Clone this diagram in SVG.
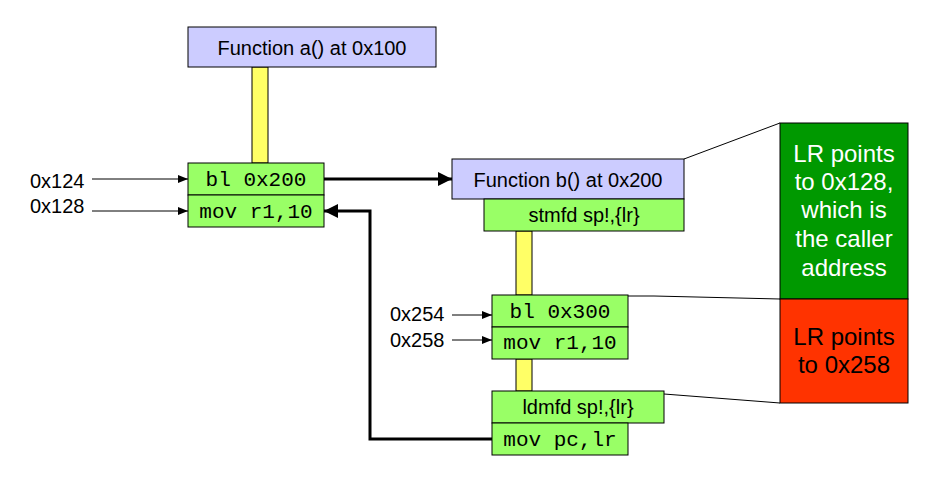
<svg xmlns="http://www.w3.org/2000/svg" width="937" height="485" viewBox="0 0 937 485">
<style>
.fn{fill:#ccccff;stroke:#000;stroke-width:1}
.ins{fill:#99ff66;stroke:#000;stroke-width:1}
.bar{fill:#ffff66;stroke:#000;stroke-width:1}
.s{font-family:"Liberation Sans",Arial,sans-serif;font-size:20px;fill:#000}
.m{font-family:"Liberation Mono","Courier New",monospace;font-size:21px;fill:#000}
.big{font-family:"Liberation Sans",Arial,sans-serif;font-size:24px;text-anchor:middle}
.c{text-anchor:middle}
.thin{stroke:#000;stroke-width:1;fill:none}
.thick{stroke:#000;stroke-width:3;fill:none}
</style>
<defs>
<marker id="ah" markerWidth="10" markerHeight="8" refX="10" refY="4" orient="auto" markerUnits="userSpaceOnUse"><path d="M0,0 L10,4 L0,8 Z" fill="#000"/></marker>
<marker id="ahb" markerWidth="14" markerHeight="14" refX="14" refY="7" orient="auto" markerUnits="userSpaceOnUse"><path d="M0,0 L14,7 L0,14 Z" fill="#000"/></marker>
</defs>
<g id="bars">
<rect class="bar" x="252" y="67" width="16" height="96"/>
<rect class="bar" x="516" y="231" width="16" height="64"/>
<rect class="bar" x="516" y="359" width="16" height="32"/>
</g>
<g id="funcA">
<rect class="fn" x="188" y="27" width="248" height="40"/>
<text class="s c" x="312" y="55">Function a() at 0x100</text>
</g>
<g id="a_bl">
<rect class="ins" x="188" y="163" width="136" height="32"/>
<text class="m c" x="256" y="186">bl 0x200</text>
</g>
<g id="a_mov">
<rect class="ins" x="188" y="195" width="136" height="32"/>
<text class="m c" x="256" y="218">mov r1,10</text>
</g>
<g id="funcB">
<rect class="fn" x="452" y="159" width="232" height="40"/>
<text class="s c" x="568" y="187">Function b() at 0x200</text>
</g>
<g id="b_stmfd">
<rect class="ins" x="484" y="199" width="200" height="32"/>
<text class="s c" x="584" y="222">stmfd sp!,{lr}</text>
</g>
<g id="b_bl">
<rect class="ins" x="492" y="295" width="136" height="32"/>
<text class="m c" x="560" y="318">bl 0x300</text>
</g>
<g id="b_mov">
<rect class="ins" x="492" y="327" width="136" height="32"/>
<text class="m c" x="560" y="349">mov r1,10</text>
</g>
<g id="b_ldmfd">
<rect class="ins" x="492" y="391" width="172" height="32"/>
<text class="s c" x="578" y="414">ldmfd sp!,{lr}</text>
</g>
<g id="b_movpc">
<rect class="ins" x="492" y="423" width="136" height="32"/>
<text class="m c" x="560" y="446">mov pc,lr</text>
</g>
<g id="noteGreen">
<rect x="780" y="123" width="128" height="176" fill="#009900" stroke="#000" stroke-width="1"/>
<text class="big" fill="#fff"><tspan x="844" y="162">LR points</tspan><tspan x="844" y="190">to 0x128,</tspan><tspan x="844" y="218">which is</tspan><tspan x="844" y="247">the caller</tspan><tspan x="844" y="276">address</tspan></text>
</g>
<g id="noteRed">
<rect x="780" y="299" width="128" height="104" fill="#ff3300" stroke="#000" stroke-width="1"/>
<text class="big" fill="#000"><tspan x="844" y="345">LR points</tspan><tspan x="844" y="373">to 0x258</tspan></text>
</g>
<g id="labels">
<text class="s" x="30" y="188">0x124</text>
<text class="s" x="30" y="213">0x128</text>
<text class="s" x="390" y="321">0x254</text>
<text class="s" x="390" y="347">0x258</text>
</g>
<g id="connectors">
<line class="thin" x1="92" y1="179" x2="188" y2="179" marker-end="url(#ah)"/>
<line class="thin" x1="92" y1="211" x2="188" y2="211" marker-end="url(#ah)"/>
<line class="thin" x1="452" y1="315" x2="492" y2="315" marker-end="url(#ah)"/>
<line class="thin" x1="452" y1="340" x2="492" y2="340" marker-end="url(#ah)"/>
<line class="thick" x1="324" y1="179" x2="452" y2="179" marker-end="url(#ahb)"/>
<polyline class="thick" points="492,439 370,439 370,211 324,211" marker-end="url(#ahb)"/>
<line class="thin" x1="684" y1="159" x2="780" y2="123"/>
<polyline class="thin" points="628,296 654,296 780,299"/>
<line class="thin" x1="664" y1="394" x2="780" y2="403"/>
</g>
</svg>
